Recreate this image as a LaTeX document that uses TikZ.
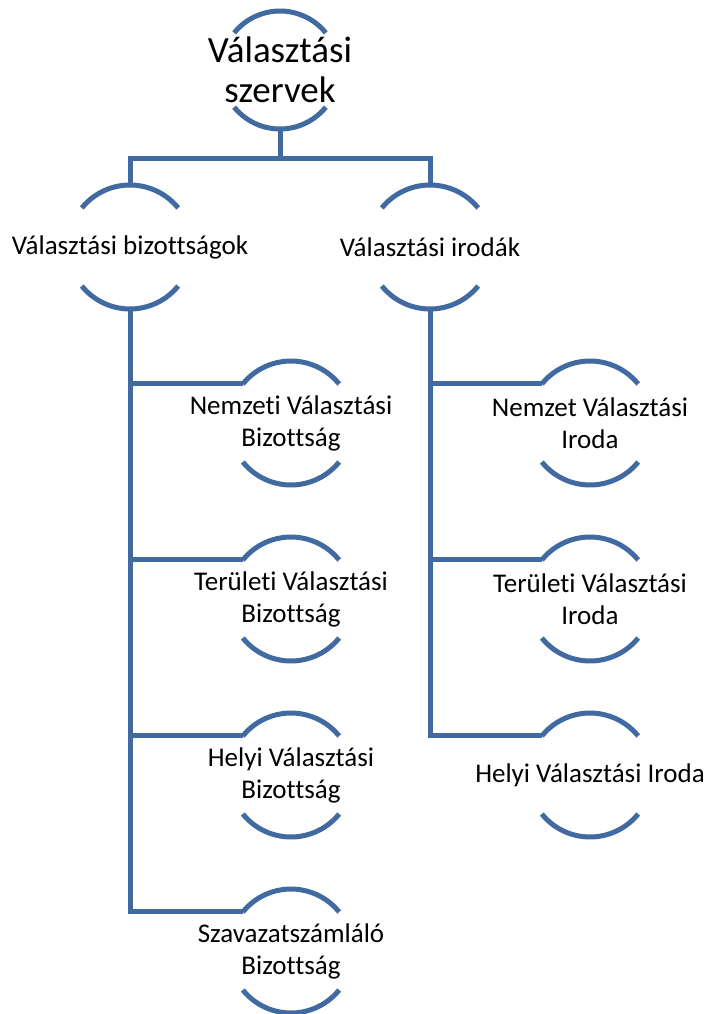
\documentclass[tikz,border=0pt]{standalone}
\usepackage{fontspec}
\setmainfont{Carlito}[Ligatures=NoCommon]
\usepackage{xcolor}
\definecolor{kek}{RGB}{65,106,160}
\tikzstyle{vonal} = [line width=5pt, draw=kek]

\begin{document}
\begin{tikzpicture}
        [
            x=1pt, y=1pt,
            kor/.style={circle, minimum size=124pt, inner sep=0pt, outer sep=0pt},
            nagykor/.style={circle, minimum size=118pt, inner sep=0pt, outer sep=0pt},
            felirat/.style={align=center, font=\fontsize{27}{32}\selectfont},
            cim/.style={align=center, font=\fontsize{37}{40}\selectfont},
        ]
    \useasboundingbox (0,0) rectangle (707,-1014);

    % korok
    \node[nagykor] (vsz) at (280,-70) {};
    \node[kor] (bz)  at (130,-247) {};
    \node[kor] (ir)  at (430,-247) {};
    \node[kor] (nvb) at (291,-423) {};
    \node[kor] (tvb) at (291,-599) {};
    \node[kor] (hvb) at (291,-775) {};
    \node[kor] (szb) at (291,-951) {};
    \node[kor] (nvi) at (590,-423) {};
    \node[kor] (tvi) at (590,-599) {};
    \node[kor] (hvi) at (590,-775) {};

    % feliratok
    \node[cim] (vszt) at (vsz) {Választási\\szervek};
    \node[felirat] (bzt)  at (bz)  {Választási bizottságok};
    \node[felirat] (irt)  at (ir)  {Választási irodák};
    \node[felirat] (nvbt) at (nvb) {Nemzeti Választási\\Bizottság};
    \node[felirat] (tvbt) at (tvb) {Területi Választási\\Bizottság};
    \node[felirat] (hvbt) at (hvb) {Helyi Választási\\Bizottság};
    \node[felirat] (szbt) at (szb) {Szavazatszámláló\\Bizottság};
    \node[felirat] (nvit) at (nvi) {Nemzet Választási\\Iroda};
    \node[felirat] (tvit) at (tvi) {Területi Választási\\Iroda};
    \node[felirat] (hvit) at (hvi) {Helyi Választási Iroda};

    % ivek
    \draw[vonal] (vsz.141) arc[start angle=141, end angle=39, radius=59];
    \draw[vonal] (vsz.219) arc[start angle=219, end angle=321, radius=59];
    \foreach \n in {bz,ir,nvb,tvb,hvb,szb,nvi,tvi,hvi}{
        \draw[vonal] (\n.141) arc[start angle=141, end angle=39, radius=62];
        \draw[vonal] (\n.219) arc[start angle=219, end angle=321, radius=62];
    }

    % osszekotok
    \coordinate (elag) at (280,-158);
    \draw[vonal] (vsz.south) -- (elag);
    \draw[vonal] (bz.north) |- (elag) -| (ir.north);
    \foreach \n in {nvb,tvb,hvb,szb}
        \draw[vonal] (bz.south) |- (\n.141);
    \foreach \n in {nvi,tvi,hvi}
        \draw[vonal] (ir.south) |- (\n.141);
\end{tikzpicture}
\end{document}
